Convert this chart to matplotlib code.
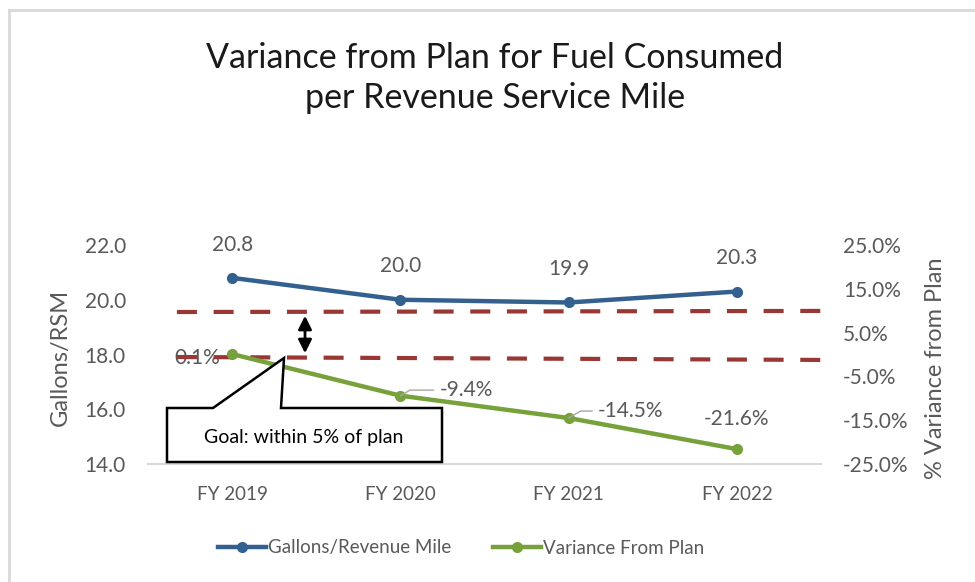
import matplotlib
matplotlib.use("Agg")
import matplotlib.pyplot as plt
from matplotlib.patches import Polygon, FancyArrowPatch
from matplotlib.lines import Line2D

plt.rcParams['font.family'] = ['Lato', 'DejaVu Sans']

# dados
anos = ["FY 2019", "FY 2020", "FY 2021", "FY 2022"]
galoes = [20.8, 20.0, 19.9, 20.3]
variacao = [0.1, -9.4, -14.5, -21.6]
rot_galoes = ["20.8", "20.0", "19.9", "20.3"]
rot_var = ["0.1%", "-9.4%", "-14.5%", "-21.6%"]

azul = '#33608F'
verde = '#77A13B'
vermelho = '#983734'
cinza = '#595959'

W, H = 975, 582
fig = plt.figure(figsize=(W / 100, H / 100), dpi=100)

def fx(px):
    return px / W

def fy(py):
    return 1 - py / H

ax = fig.add_axes([fx(148), fy(464), fx(821) - fx(148), fy(245) - fy(464)])
ax2 = ax.twinx()

x = list(range(len(anos)))
ax.plot(x, galoes, color=azul, lw=3.2, marker='o', ms=7, zorder=3)
ax2.plot(x, variacao, color=verde, lw=3.2, marker='o', ms=7, zorder=3)

ax.set_xlim(-0.5, 3.5)
ax.set_ylim(14, 22)
ax.set_yticks([14, 16, 18, 20, 22])
ax.set_yticklabels([f"{v:.1f}" for v in [14, 16, 18, 20, 22]])
ax2.set_ylim(-25, 25)
ax2.set_yticks([-25, -15, -5, 5, 15, 25])
ax2.set_yticklabels([f"{v:.1f}%" for v in [-25, -15, -5, 5, 15, 25]])
ax.set_xticks(x)
ax.set_xticklabels(anos)

for a in (ax, ax2):
    for s in a.spines.values():
        s.set_visible(False)
    a.tick_params(length=0, colors=cinza, labelsize=15)
ax.spines['bottom'].set_visible(True)
ax.spines['bottom'].set_color('#D9D9D9')
ax.spines['bottom'].set_linewidth(1.5)
ax.tick_params(axis='x', labelsize=13.5, pad=16)
ax.tick_params(axis='y', pad=16)
ax2.tick_params(axis='y', pad=16)

# rotulos dos dados
for i, v in enumerate(galoes):
    ax.annotate(rot_galoes[i], (i, v), xytext=(0, 24), textcoords='offset points',
                ha='center', va='center', fontsize=15, color=cinza)

ax2.annotate(rot_var[0], (0, variacao[0]), xytext=(-25, -3), textcoords='offset points',
             ha='center', va='center', fontsize=15, color=cinza, zorder=1)
ax2.annotate(rot_var[1], (1, variacao[1]), xytext=(28, 4), textcoords='offset points',
             ha='left', va='center', fontsize=15, color=cinza,
             arrowprops=dict(arrowstyle='-', color='#A6A6A6', lw=1,
                             connectionstyle='angle,angleA=0,angleB=30,rad=0',
                             shrinkA=2, shrinkB=0))
ax2.annotate(rot_var[2], (2, variacao[2]), xytext=(21, 5), textcoords='offset points',
             ha='left', va='center', fontsize=15, color=cinza,
             arrowprops=dict(arrowstyle='-', color='#A6A6A6', lw=1,
                             connectionstyle='angle,angleA=0,angleB=30,rad=0',
                             shrinkA=2, shrinkB=0))
ax2.annotate(rot_var[3], (3, variacao[3]), xytext=(0, 22), textcoords='offset points',
             ha='center', va='center', fontsize=15, color=cinza)

# linhas tracejadas da meta
ax2.add_line(Line2D([0.043, 1.0015], [0.694, 0.699], transform=ax.transAxes,
                    color=vermelho, lw=3, dashes=(4.8, 4), clip_on=False, zorder=2))
ax2.add_line(Line2D([0.043, 1.016], [0.4886, 0.475], transform=ax.transAxes,
                    color=vermelho, lw=3, dashes=(4.8, 4), clip_on=False, zorder=2))

# seta dupla
fig.add_artist(FancyArrowPatch(
    (fx(305), fy(313)), (fx(305), fy(356)), transform=fig.transFigure,
    arrowstyle='<|-|>', mutation_scale=20, color='black', lw=2, zorder=6))

# caixa de texto (callout)
pts = [(167, 408), (213, 408), (284, 358), (281, 408), (442, 408), (442, 462), (167, 462)]
fig.add_artist(Polygon([(fx(a), fy(b)) for a, b in pts], closed=True, transform=fig.transFigure,
                       facecolor='white', edgecolor='black', lw=1.8, zorder=7))
fig.text(fx(304), fy(437), "Goal: within 5% of plan", ha='center', va='center',
         fontsize=14, color='black', zorder=8)

# titulo e eixos
fig.text(fx(495), fy(78), "Variance from Plan for Fuel Consumed\nper Revenue Service Mile",
         ha='center', va='center', fontsize=24.5, color='#1a1a1a', linespacing=1.3)
fig.text(fx(60), fy(357), "Gallons/RSM", rotation=90, ha='center', va='center',
         fontsize=17, color=cinza)
fig.text(fx(935), fy(368), "% Variance from Plan", rotation=90, ha='center', va='center',
         fontsize=17, color=cinza)

# legenda
h1 = Line2D([], [], color=azul, lw=3.2, marker='o', ms=7)
h2 = Line2D([], [], color=verde, lw=3.2, marker='o', ms=7)
leg = fig.legend([h1, h2], ["Gallons/Revenue Mile", "Variance From Plan"], loc='center',
                 bbox_to_anchor=(fx(461), fy(548)), ncol=2, frameon=False, fontsize=13.5,
                 handlelength=2.6, handletextpad=0.1, columnspacing=2.2)
for t in leg.get_texts():
    t.set_color(cinza)

# borda do grafico
fig.add_artist(Line2D([fx(9), 1], [fy(10), fy(10)], transform=fig.transFigure,
                      color='#D9D9D9', lw=2))
fig.add_artist(Line2D([fx(9), fx(9)], [0, fy(10)], transform=fig.transFigure,
                      color='#D9D9D9', lw=2))

fig.savefig("out.png", dpi=100)
